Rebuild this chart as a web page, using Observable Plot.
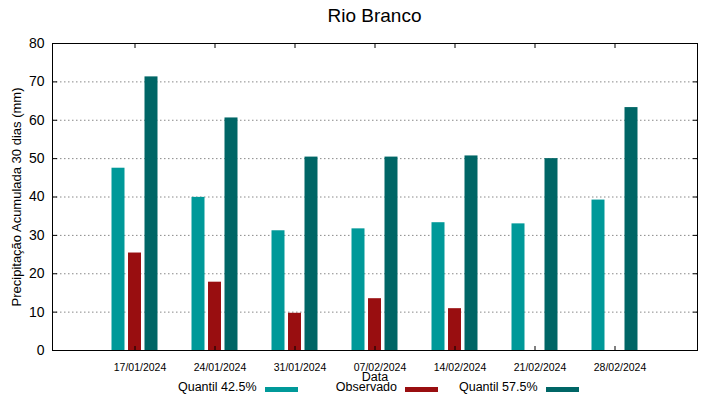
<!DOCTYPE html>
<html>
<head>
<meta charset="utf-8">
<script src="https://cdn.jsdelivr.net/npm/d3@7"></script>
<script src="https://cdn.jsdelivr.net/npm/@observablehq/plot@0.6"></script>
<style>
  html, body { margin: 0; padding: 0; background: #fff; }
  #wrap { position: relative; width: 719px; height: 399px; font-family: "Liberation Sans", Arial, sans-serif; overflow: hidden; }
  #title { position: absolute; left: 52px; width: 645px; top: 0; height: 30px; text-align: center; font-size: 19px; line-height: 32px; color: #000; }
  #chart { position: absolute; left: 0; top: 30px; }
  #legend { position: absolute; left: 157px; top: 380px; display: flex; font-size: 12.5px; color: #000; }
  .item { width: 140.5px; display: flex; justify-content: flex-end; align-items: center; }
  .sw { width: 33px; height: 5px; margin-left: 8px; margin-top: 5px; }
</style>
</head>
<body>
<div id="wrap">
  <div id="title"></div>
  <div id="chart"></div>
  <div id="legend"></div>
</div>
<script>
const titleText = "Rio Branco";
const dates = ["17/01/2024", "24/01/2024", "31/01/2024", "07/02/2024", "14/02/2024", "21/02/2024", "28/02/2024"];
const quantil425 = [47.5, 39.9, 31.2, 31.7, 33.3, 33.0, 39.2];
const observado = [25.4, 17.8, 9.7, 13.5, 10.9, null, null];
const quantil575 = [71.3, 60.6, 50.4, 50.4, 50.7, 50.0, 63.3];
const seriesNames = ["Quantil 42.5%", "Observado", "Quantil 57.5%"];
const seriesColors = ["#009999", "#990e10", "#006666"];
const yTicks = [0, 10, 20, 30, 40, 50, 60, 70, 80];
const gridTicks = [10, 20, 30, 40, 50, 60, 70];
const yLabel = "Precipitação Acumulada 30 dias (mm)";
const xLabel = "Data";

document.getElementById("title").textContent = titleText;

const seriesValues = [quantil425, observado, quantil575];
const rows = seriesValues.map((vals, s) =>
  dates.map((d, i) => ({date: d, value: vals[i], series: seriesNames[s]})).filter(r => r.value != null)
);
const offsets = [-16.5, 0, 16.5];

const chart = Plot.plot({
  width: 719,
  height: 369,
  marginTop: 13,
  marginBottom: 49,
  marginLeft: 52,
  marginRight: 22,
  style: {fontFamily: "Liberation Sans, Arial, sans-serif", background: "#fff", color: "#000"},
  x: {type: "band", domain: dates, paddingInner: 0.839, paddingOuter: 0.916},
  y: {domain: [0, 80]},
  marks: [
    Plot.gridY(gridTicks, {stroke: "#888", strokeOpacity: 1, strokeWidth: 1, strokeDasharray: "1.5,2.5"}),
    ...rows.map((r, s) => Plot.barY(r, {x: "date", y: "value", fill: seriesColors[s], dx: offsets[s], inset: 0})),
    Plot.axisY({anchor: "left", ticks: yTicks, tickSize: -5, tickPadding: 13, fontSize: 14, label: null, stroke: "#000"}),
    Plot.axisY({anchor: "right", ticks: yTicks, tickSize: -5, text: null, label: null, stroke: "#000"}),
    Plot.axisX({anchor: "bottom", tickSize: -4, text: null, label: null}),
    Plot.axisX({anchor: "top", tickSize: -4, text: null, label: null}),
    Plot.axisX({anchor: "bottom", tickSize: 0, tickPadding: 13, fontSize: 10.5, dx: 5, label: null}),
    Plot.frame({stroke: "#000", strokeWidth: 1}),
    Plot.text([xLabel], {frameAnchor: "bottom", text: d => d, dy: 30, fontSize: 12.5}),
    Plot.text([yLabel], {frameAnchor: "left", text: d => d, rotate: -90, textAnchor: "middle", dx: -36, fontSize: 13})
  ]
});
document.getElementById("chart").appendChild(chart);

const legend = document.getElementById("legend");
seriesNames.forEach((name, i) => {
  const item = document.createElement("div");
  item.className = "item";
  const t = document.createElement("span");
  t.textContent = name;
  const sw = document.createElement("span");
  sw.className = "sw";
  sw.style.background = seriesColors[i];
  item.appendChild(t);
  item.appendChild(sw);
  legend.appendChild(item);
});
</script>
</body>
</html>
